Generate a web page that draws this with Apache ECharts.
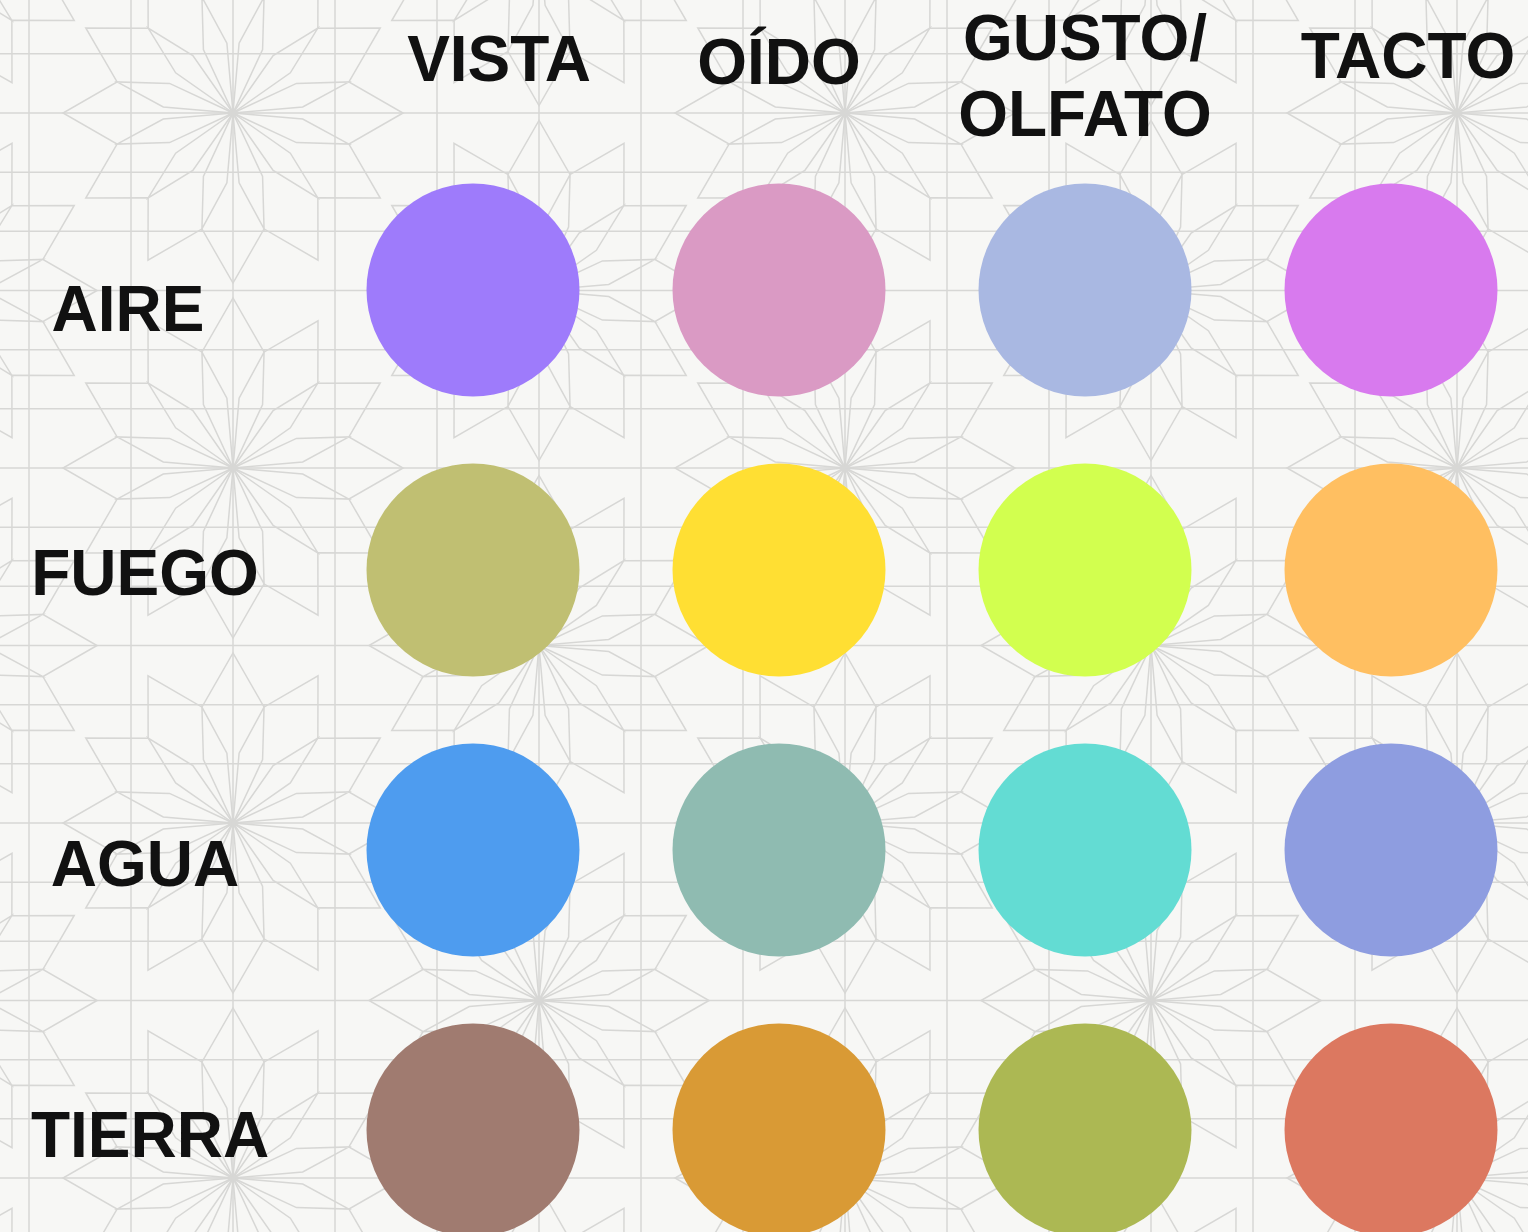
<!DOCTYPE html>
<html>
<head>
<meta charset="utf-8">
<script src="https://cdn.jsdelivr.net/npm/echarts@6/dist/echarts.min.js"></script>
<style>
  html, body { margin: 0; padding: 0; background: #f7f7f5; }
  #chart { width: 1528px; height: 1232px; }
</style>
</head>
<body>
<div id="chart"></div>
<script>
// ---- data ----
const senses = ['VISTA', 'OÍDO', 'GUSTO/\nOLFATO', 'TACTO'];
const elements = ['AIRE', 'FUEGO', 'AGUA', 'TIERRA'];
const aireColors   = ['#9E7BFB', '#DA9AC4', '#A9B8E2', '#D87AEE'];
const fuegoColors  = ['#C0BF72', '#FFDF33', '#D2FF4F', '#FFBF61'];
const aguaColors   = ['#4E9CEF', '#8FBBB1', '#63DCD3', '#8E9DE0'];
const tierraColors = ['#A07B70', '#D99A35', '#ACB853', '#DC7860'];
const colorRows = [aireColors, fuegoColors, aguaColors, tierraColors];

// ---- decorative background (geometric pattern) ----
function makeBackground(w, h) {
  const c = document.createElement('canvas');
  c.width = w; c.height = h;
  const g = c.getContext('2d');
  g.fillStyle = '#f7f7f5';
  g.fillRect(0, 0, w, h);
  g.strokeStyle = '#d7d7d5';
  g.lineWidth = 1.5;
  function seg(x1, y1, x2, y2) { g.beginPath(); g.moveTo(x1, y1); g.lineTo(x2, y2); g.stroke(); }
  const dx = 306, dy = 177.5, ox = 233, oy = 113;
  for (let x = ox % (dx / 3); x < w; x += dx / 3) seg(x, 0, x, h);
  for (let y = oy % (dy / 3); y < h; y += dy / 3) seg(0, y, w, y);
  function poly(pts) {
    g.beginPath();
    pts.forEach((p, i) => i ? g.lineTo(p[0], p[1]) : g.moveTo(p[0], p[1]));
    g.closePath(); g.stroke();
  }
  for (let j = -2; j < 10; j++) {
    for (let i = -2; i < 8; i++) {
      if ((i + j) % 2 !== 0) continue;
      const cx = ox + dx * i, cy = oy + dy * j;
      for (let k = 0; k < 12; k++) {
        const a = (k * 30 + 15) * Math.PI / 180;
        const b1 = (k * 30 + 5) * Math.PI / 180, b2 = (k * 30 + 25) * Math.PI / 180;
        poly([[cx, cy],
              [cx + Math.cos(b1) * 70, cy + Math.sin(b1) * 70],
              [cx + Math.cos(a) * 120, cy + Math.sin(a) * 120],
              [cx + Math.cos(b2) * 70, cy + Math.sin(b2) * 70]]);
      }
      const outer = [];
      for (let k = 0; k < 24; k++) {
        const a = k * 15 * Math.PI / 180;
        const r2 = k % 2 ? 120 : 170;
        outer.push([cx + Math.cos(a) * r2, cy + Math.sin(a) * r2]);
      }
      poly(outer);
    }
  }
  return c;
}

// ---- build options ----
const points = [];
colorRows.forEach((row, r) => {
  row.forEach((col, s) => {
    points.push({ value: [s, r], itemStyle: { color: col } });
  });
});

const font = { fontFamily: 'Liberation Sans, Arial, sans-serif', fontWeight: 'bold', fontSize: 64, color: '#111111' };
const tok = (extra) => Object.assign({}, font, extra);
const gap = (h) => ({ fontSize: 4, lineHeight: h, color: 'transparent' });

// label layout nudges (style only)
const headerFmt = {
  'VISTA': ['s6', 'tV'],
  'OÍDO': ['s12', 't'],
  'GUSTO/\nOLFATO': ['s40', 't'],
  'TACTO': [null, 'tT']
};
const rowFmt = {
  'AIRE': ['s46', 'tA'],
  'FUEGO': ['s14', 'r'],
  'AGUA': ['s36', 'r'],
  'TIERRA': ['s18', 'tR']
};
function richLabel(value, fmt) {
  const f = fmt[value];
  const lines = value.split('\n').map(l => '{' + f[1] + '|' + l + '}');
  return (f[0] ? '{' + f[0] + '| }\n' : '') + lines.join('\n');
}

const chart = echarts.init(document.getElementById('chart'), null, { renderer: 'canvas' });
chart.setOption({
  backgroundColor: { image: makeBackground(1528, 1232), repeat: 'no-repeat' },
  animation: false,
  grid: { left: 473, right: 137, top: 290, bottom: 102, containLabel: false, outerBoundsMode: 'none' },
  xAxis: {
    type: 'category',
    position: 'top',
    boundaryGap: false,
    data: senses,
    axisLine: { show: false },
    axisTick: { show: false },
    splitLine: { show: false },
    axisLabel: Object.assign({
      margin: 230, verticalAlign: 'middle', align: 'center', interval: 0, hideOverlap: false,
      formatter: v => richLabel(v, headerFmt),
      rich: {
        t: tok({ lineHeight: 76 }),
        tV: tok({ lineHeight: 76, padding: [0, 0, 0, 52] }),
        tT: tok({ lineHeight: 76, padding: [0, 0, 0, 34] }),
        s6: gap(6), s12: gap(12), s40: gap(40)
      }
    }, font)
  },
  yAxis: {
    type: 'category',
    inverse: true,
    boundaryGap: false,
    data: elements,
    axisLine: { show: false },
    axisTick: { show: false },
    splitLine: { show: false },
    axisLabel: Object.assign({
      margin: 328, align: 'center', verticalAlign: 'middle', interval: 0,
      formatter: v => richLabel(v, rowFmt),
      rich: {
        r: tok({ lineHeight: 64 }),
        tA: tok({ lineHeight: 64, padding: [0, 34, 0, 0] }),
        tR: tok({ lineHeight: 64, padding: [0, 0, 0, 10] }),
        s46: gap(46), s14: gap(14), s36: gap(36), s18: gap(18)
      }
    }, font)
  },
  series: [{
    type: 'scatter',
    symbol: 'circle',
    symbolSize: 213,
    clip: false,
    itemStyle: { opacity: 1 },
    data: points
  }]
});
</script>
</body>
</html>
